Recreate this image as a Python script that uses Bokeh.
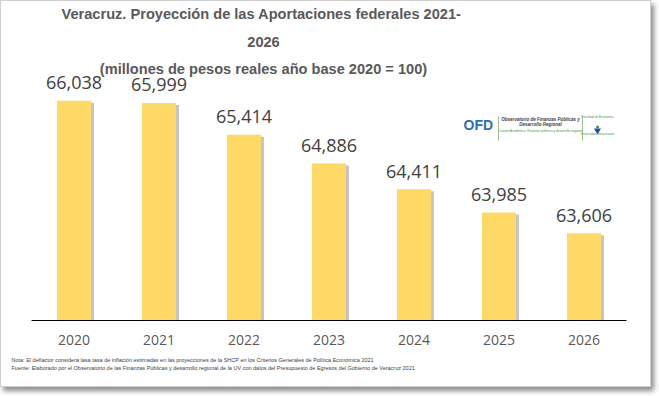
from bokeh.plotting import figure
from bokeh.models import Range1d, Label, ColumnDataSource
from bokeh.core.properties import value
from bokeh.embed import file_html
from bokeh.resources import INLINE

# ---- data ----
years = ["2020", "2021", "2022", "2023", "2024", "2025", "2026"]
aportaciones = [66038, 65999, 65414, 64886, 64411, 63985, 63606]
axis_min, axis_max = 62000, 67000

title_lines = [
    "Veracruz. Proyección de las Aportaciones  federales 2021-",
    "2026",
    "(millones de pesos reales año base 2020 = 100)",
]
notes = [
    "Nota: El deflactor considera lasa tasa de inflación estimadas en las proyecciones de la SHCP en los Criterios Generales de Política Económica 2021",
    "Fuente: Elaborado por el Observatorio de las Finanzas Públicas  y desarrollo regional de la UV con datos del Presupuesto de Egresos del Gobierno de Veracruz 2021",
]

idx = list(range(len(years)))
labels = [f"{v:,}" for v in aportaciones]

# ---- layout (page pixels) ----
FIG_X0, FIG_Y0 = 2, 2
W, H = 651, 387
AX_L, AX_R, AX_T, AX_B = 32, 627, 49, 321      # value-axis box in page px
PX_PER_UNIT = (AX_B - AX_T) / (axis_max - axis_min)
CAT_W = (AX_R - AX_L) / len(years)
TXT = 6  # text baseline correction (px)


def xd(px):
    return (px - AX_L) / CAT_W - 0.5


def yd(py):
    return axis_min + (AX_B - py + TXT) / PX_PER_UNIT


def yg(py):
    return axis_min + (AX_B - py) / PX_PER_UNIT


p = figure(
    width=W, height=H,
    x_range=Range1d(xd(FIG_X0), xd(FIG_X0 + W)),
    y_range=Range1d(yg(FIG_Y0 + H), yg(FIG_Y0)),
    x_axis_location=None, y_axis_location=None,
    output_backend="svg", toolbar_location=None,
    min_border=0,
)
p.styles = {
    "border": "1px solid #d0d0d0",
    "box-shadow": "3px 4px 5px #8c8c8c",
    "box-sizing": "border-box",
}
p.outline_line_color = None
p.xgrid.visible = False
p.ygrid.visible = False
p.background_fill_color = "white"
p.border_fill_color = "white"

# bar shadows
shadow_src = ColumnDataSource(dict(
    x=[i + 3 / CAT_W for i in idx],
    top=[v - 2 / PX_PER_UNIT for v in aportaciones],
))
p.vbar(x="x", top="top", bottom=axis_min, width=0.4, source=shadow_src,
       fill_color="#7f7f7f", fill_alpha=0.45, line_color=None)

src = ColumnDataSource(dict(x=idx, top=aportaciones, label=labels,
                            year=years, base=[axis_min] * len(years)))
p.vbar(x="x", top="top", bottom=axis_min, width=0.4, source=src,
       fill_color="#FFD966", line_color=None)

# value labels
p.text(x="x", y="top", text="label", source=src,
       text_font=value("Open Sans"), text_font_size="18px",
       text_color="#404040", text_align="center", text_baseline="alphabetic",
       y_offset=-12 - TXT)

# category axis: baseline + year labels
p.segment(x0=[-0.5], y0=[axis_min], x1=[len(years) - 0.5], y1=[axis_min],
          line_color="black", line_width=1)
p.text(x="x", y="base", text="year", source=src,
       text_font=value("Open Sans"), text_font_size="14px",
       text_color="#595959", text_align="center", text_baseline="alphabetic",
       y_offset=25.5 - TXT)

# title
for line, base in zip(title_lines, [20.5, 48, 75]):
    p.add_layout(Label(x=xd(264), y=yd(base), text=line,
                       text_font="Liberation Sans", text_font_style="bold",
                       text_font_size="14.6px", text_color="#595959",
                       text_align="center", text_baseline="alphabetic"))

# notes
for line, base in zip(notes, [366.5, 374]):
    p.add_layout(Label(x=xd(12), y=yd(base), text=line,
                       text_font="Liberation Sans",
                       text_font_size="5.5px", text_color="#404040",
                       text_align="left", text_baseline="alphabetic"))

# logo (OFD)
p.add_layout(Label(x=xd(464), y=yd(131.5), text="OFD", text_font="Liberation Sans",
                   text_font_style="bold", text_font_size="14px", text_color="#2F6DB5",
                   text_align="left", text_baseline="alphabetic"))
p.segment(x0=[xd(499), xd(583)], y0=[yg(117), yg(117)], x1=[xd(499), xd(583)],
          y1=[yg(141), yg(141)], line_color="#9dbf8a", line_width=1)
p.add_layout(Label(x=xd(541), y=yd(125.5), text="Observatorio de Finanzas Públicas y",
                   text_font="Liberation Sans", text_font_style="bold italic",
                   text_font_size="4.5px", text_color="#404040", text_align="center",
                   text_baseline="alphabetic"))
p.add_layout(Label(x=xd(541), y=yd(130.5), text="Desarrollo Regional",
                   text_font="Liberation Sans", text_font_style="bold italic",
                   text_font_size="4.5px", text_color="#404040", text_align="center",
                   text_baseline="alphabetic"))
p.add_layout(Label(x=xd(541), y=yd(137.5),
                   text="Cuerpo Académico: Finanzas públicas y desarrollo regional",
                   text_font="Liberation Sans", text_font_size="3.2px",
                   text_color="#3a9a3a", text_align="center", text_baseline="alphabetic"))
p.add_layout(Label(x=xd(598), y=yd(123), text="Facultad de Economía",
                   text_font="Liberation Sans", text_font_size="3.2px",
                   text_color="#3a9a3a", text_align="center", text_baseline="alphabetic"))
p.scatter(x=[xd(598)], y=[yg(131)], marker="inverted_triangle", size=7,
          fill_color="#1f4e9a", line_color=None)
p.scatter(x=[xd(598)], y=[yg(127.5)], marker="circle", size=3,
          fill_color="#3a9a3a", line_color=None)
p.add_layout(Label(x=xd(598), y=yd(140.5), text="Universidad Veracruzana",
                   text_font="Liberation Sans", text_font_size="3px",
                   text_color="#3a9a3a", text_align="center", text_baseline="alphabetic"))

open("out.html", "w").write(file_html(p, INLINE))
